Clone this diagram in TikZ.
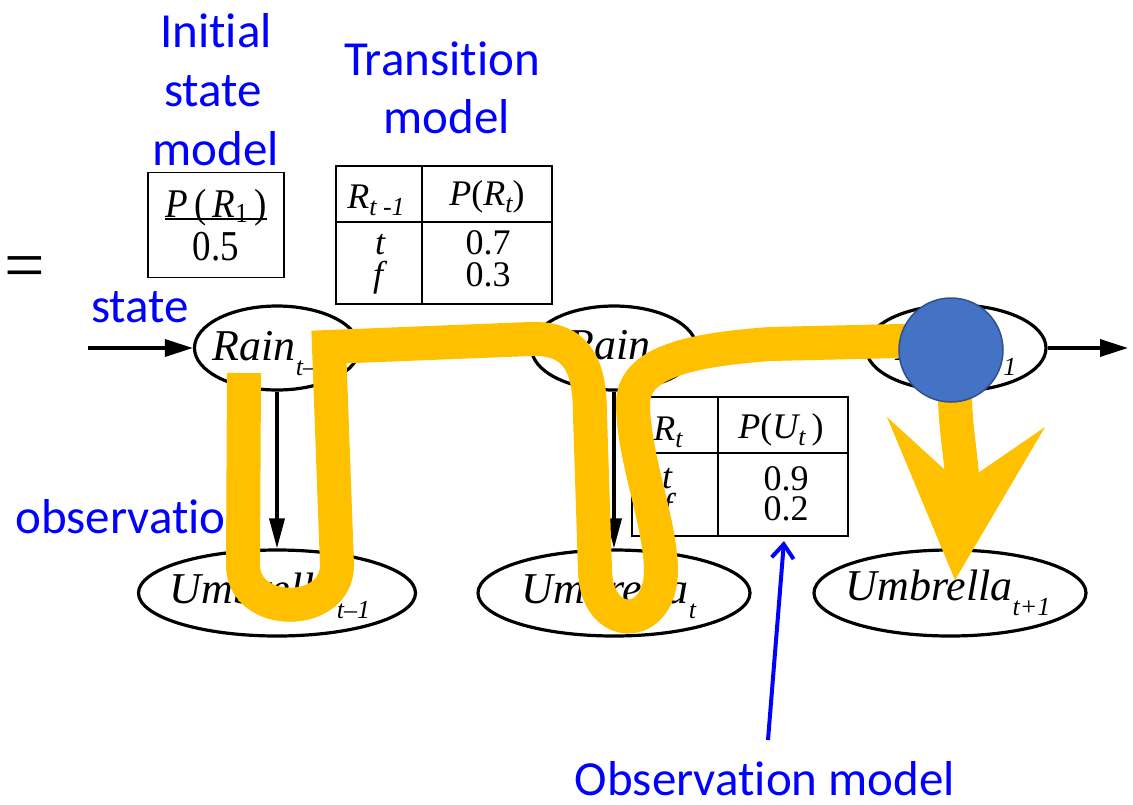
\documentclass[tikz,border=0pt]{standalone}
\usepackage{fontspec}
\usepackage{graphicx}
\setmainfont{Liberation Serif}
\newfontfamily\calib[Ligatures=NoCommon]{Carlito}
\usetikzlibrary{arrows.meta,shapes.geometric}
\definecolor{hlyellow}{HTML}{FFC000}
\definecolor{cblue}{HTML}{4472C4}
\definecolor{cblueb}{HTML}{2F528F}
\definecolor{lblue}{HTML}{0000FF}
\newcommand{\lowsub}[1]{\smash{\raisebox{-15pt}{\fontsize{26}{26}\selectfont\itshape #1}}}
\newcommand{\tsub}[1]{\smash{\raisebox{-7pt}{\fontsize{26}{26}\selectfont\itshape #1}}}
\begin{document}
\begin{tikzpicture}[x=1pt,y=-1pt,
  lbl/.style={font=\calib\fontsize{49}{59}\selectfont, text=lblue, inner sep=0, anchor=base},
  stnode/.style={ellipse, draw, line width=3.2pt, inner sep=0},
  stlabel/.style={font=\fontsize{44}{44}\selectfont\itshape, inner sep=0, anchor=base},
  tb/.style={font=\fontsize{36}{36}\selectfont, inner sep=0, anchor=base},
  tline/.style={line width=1.8pt},
  harr/.style={line width=3.5pt, -{Triangle[length=28pt,width=17pt]}},
  varr/.style={line width=3.5pt, -{Triangle[length=30pt,width=15pt]}},
  hl/.style={draw=hlyellow, line width=34pt, line join=miter},
]
\fill[white] (0,0) rectangle (1133,804);
\useasboundingbox (0,0) rectangle (1133,804);

% state and observation ellipses
\node[stnode, minimum width=165pt, minimum height=84pt] (r0) at (277,348) {};
\node[stnode, minimum width=165pt, minimum height=84pt] (r1) at (614,348) {};
\node[stnode, minimum width=180pt, minimum height=86pt] (r2) at (956,348) {};
\node[stnode, minimum width=277pt, minimum height=86pt] (u0) at (277,593) {};
\node[stnode, minimum width=272pt, minimum height=86pt] (u1) at (614,593) {};
\node[stnode, minimum width=272pt, minimum height=86pt] (u2) at (950,593) {};

\node[stlabel] (r0t) at (271,360) {Rain\lowsub{t–1}};
\node[stlabel] (r1t) at (613,359) {Rain\lowsub{t}};
\node[stlabel] (r2t) at (956,360) {Rain\lowsub{t+1}};
\node[stlabel] (u0t) at (270,603) {Umbrella\lowsub{t–1}};
\node[stlabel] (u1t) at (609,603) {Umbrella\lowsub{t}};
\node[stlabel] (u2t) at (948,600) {Umbrella\lowsub{t+1}};

\coordinate (in) at (88,348);
\coordinate (out) at (1128,348);
\draw[harr] (in) -- (r0);
\draw[harr] (r0) -- (r1);
\draw[harr] (r1) -- (r2);
\draw[harr] (r2) -- (out);
\draw[varr] (r0) -- (u0);
\draw[varr] (r1) -- (u1);
\draw[varr] (r2) -- (u2);

% initial state table
\node[draw, tline, minimum width=136pt, minimum height=105pt, inner sep=0] (tinit) at (216,225) {};
\node[tb, font=\fontsize{37}{37}\selectfont] (pr1) at (216,217) {\scalebox{1}[1.1]{{\itshape P}\,(\,{\itshape R}\smash{\raisebox{-5pt}{\fontsize{25}{25}\selectfont 1}}\,)}};
\draw[line width=2pt] ([yshift=-2pt]pr1.base west) -- ([yshift=-2pt]pr1.base east);
\node[tb, font=\fontsize{37}{37}\selectfont] (p05) at (216,260) {\scalebox{1}[1.15]{0.5}};

% transition table
\draw[tline] (336,166) rectangle (552,304);
\draw[tline] (422,166) -- (422,304);
\draw[tline] (336,222) -- (552,222);
\node[tb] (th1) at (376,208) {{\itshape R}\tsub{t -1}};
\node[tb] (th2) at (487,205) {{\itshape P}({\itshape R}\tsub{t})};
\node[tb] (tr1) at (380,254) {\itshape t};
\node[tb] (tr2) at (378,286) {\itshape f};
\node[tb] (tv1) at (488,254) {0.7};
\node[tb] (tv2) at (488,286) {0.3};

% observation table
\draw[tline] (632,397) rectangle (848,536);
\draw[tline] (718,397) -- (718,536);
\draw[tline] (632,453) -- (848,453);
\node[tb] (oh1) at (668,440) {{\itshape R}\tsub{t}};
\node[tb] (oh2) at (781,438) {{\itshape P}({\itshape U}\tsub{t}\,)};
\node[tb] (or1) at (667,488) {\itshape t};
\node[tb] (or2) at (667,518) {\itshape f};
\node[tb] (ov1) at (786,490) {0.9};
\node[tb] (ov2) at (786,520) {0.2};

% blue labels
\node[lbl] (linit1) at (216,47) {Initial};
\node[lbl] (linit2) at (213,106) {state};
\node[lbl] (linit3) at (216,165) {model};
\node[lbl] (ltrans1) at (442,75) {Transition};
\node[lbl] (ltrans2) at (447,133) {model};
\node[lbl] (lstate) at (140,322) {state};
\node[lbl, anchor=base west] (lobs) at (15,533) {observation};
\node[lbl] (lobsm) at (765,795) {Observation model};
\node[font=\fontsize{72}{72}\selectfont, inner sep=0] (eq) at (25,273) {=};

% highlighted path
\draw[hl] (244,373) -- (243,565) .. controls (243,618) and (337,618) .. (337,565)
  -- (329,347) -- (530,339) .. controls (580,337) and (590,370) .. (590,415)
  -- (595,570) .. controls (596,632) and (661,632) .. (661,570)
  .. controls (660,520) and (634,460) .. (633,405)
  .. controls (632,362) and (690,350) .. (770,344) -- (900,341)
  .. controls (945,340) and (955,360) .. (955,400)
  .. controls (956,430) and (960,450) .. (962,476);
\fill[fill=hlyellow] (887,417) -- (945,470) -- (978,473) -- (1045,427) -- (955,580) -- cycle;

\node[circle, fill=cblue, draw=cblueb, line width=1.5pt, minimum size=104pt, inner sep=0] (dot) at (951,350) {};

% pointer to observation model
\coordinate (oa1) at (768,740);
\coordinate (oa2) at (784,541);
\draw[lblue, line width=4pt, -{Straight Barb[length=14pt,width=22pt]}] (oa1) -- (oa2);
\end{tikzpicture}
\end{document}
